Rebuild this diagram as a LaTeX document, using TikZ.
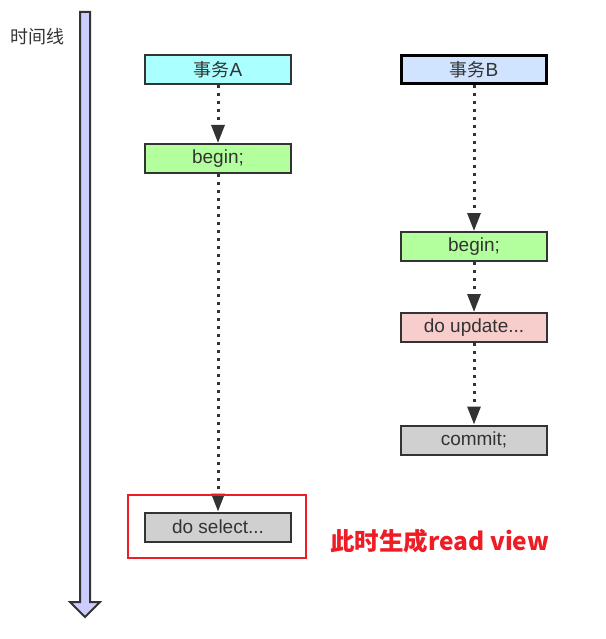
\documentclass[tikz,border=0pt]{standalone}
\usepackage{fontspec}
\setmainfont{Liberation Sans}
\newfontfamily\cjk{Noto Sans CJK SC}
\usetikzlibrary{arrows.meta}
\definecolor{edge}{HTML}{333333}
\definecolor{cyanfill}{HTML}{AAFFFF}
\definecolor{greenfill}{HTML}{B3FF9E}
\definecolor{bluefill}{HTML}{D0E4FF}
\definecolor{pinkfill}{HTML}{F8CECC}
\definecolor{grayfill}{HTML}{D0D0D0}
\definecolor{timefill}{HTML}{CCCCFF}
\definecolor{redmark}{HTML}{EE1C25}
\begin{document}
\begin{tikzpicture}[x=1pt,y=-1pt,
  box/.style={draw=edge,line width=2pt,minimum width=146pt,minimum height=29pt,inner sep=0pt,text=edge,font=\fontsize{19}{21}\selectfont},
  conn/.style={draw=edge,line width=3pt,dash pattern=on 3pt off 5pt,-{Triangle[length=18pt,width=13pt,fill=edge]}}]
\useasboundingbox (0,0) rectangle (605,639);
% time line
\draw[fill=timefill,draw=edge,line width=2pt,line join=miter]
  (80,12) -- (90,12) -- (90,602) -- (100,602) -- (85,617) -- (70,602) -- (80,602) -- cycle;
\node[text=edge,font=\cjk\fontsize{18}{20}\selectfont,anchor=center] (tl) at (37.5,37) {时间线};
% column A
\node[box,fill=cyanfill] (ta) at (218,69.5) {{\cjk\fontsize{18}{20}\selectfont 事务}A};
\node[box,fill=greenfill] (ba) at (218,158.5) {begin;};
\node[box,fill=grayfill] (sa) at (218,527) {do select...};
% column B
\node[box,fill=bluefill,draw=black,line width=3pt,minimum width=145pt,minimum height=28pt] (tb) at (474,69.5) {{\cjk\fontsize{18}{20}\selectfont 事务}B};
\node[box,fill=greenfill] (bb) at (474,246.5) {begin;};
\node[box,fill=pinkfill] (ub) at (474,327.5) {do update...};
\node[box,fill=grayfill] (cb) at (474,440) {commit;};
% connectors
\draw[conn] (ta.south) -- (ba.north);
\draw[conn] (ba.south) -- (sa.north);
\draw[conn] (tb.south) -- (bb.north);
\draw[conn] (bb.south) -- (ub.north);
\draw[conn] (ub.south) -- (cb.north);
% highlight
\node[draw=redmark,line width=2pt,minimum width=178pt,minimum height=63pt,inner sep=0pt] (hl) at (217,526.5) {};
\node[text=redmark,font=\cjk\fontsize{24.5}{26}\selectfont\bfseries,anchor=west,inner sep=0pt] (note) at (330,541) {此时生成read view};
\end{tikzpicture}
\end{document}
